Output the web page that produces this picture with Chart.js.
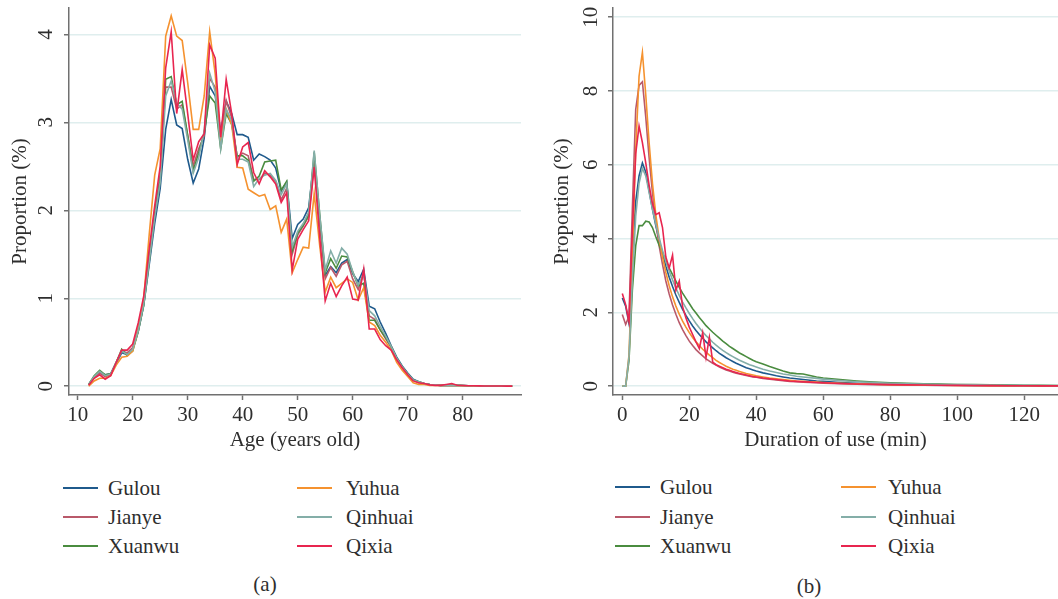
<!DOCTYPE html>
<html><head><meta charset="utf-8">
<script src="https://cdn.jsdelivr.net/npm/chart.js@4.4.1/dist/chart.umd.min.js"></script>
<style>
html,body{margin:0;padding:0;background:#fff;width:1058px;height:599px;overflow:hidden;position:relative;font-family:"Liberation Serif","DejaVu Serif",serif;color:#2e2e2e}
canvas{position:absolute;top:0}
#ca{left:0}
#cb{left:540px}
.li{position:absolute;height:24px;font-size:21px;line-height:24px;white-space:nowrap}
.li span.s{position:absolute;left:0;top:11px;width:35px;height:2px}
.li span.t{position:absolute;top:0}
.cap{position:absolute;font-size:21px;line-height:24px;transform:translateX(-50%)}
</style></head><body>
<canvas id="ca" width="530" height="460"></canvas>
<canvas id="cb" width="518" height="460"></canvas>
<script>
// ---------- data ----------
const SERIES = ['Gulou','Jianye','Xuanwu','Yuhua','Qinhuai','Qixia'];
const COLORS = ['#1f5a8c','#b9596a','#4a8c3f','#f5922f','#84aea8','#e8254f'];

// (a) age distribution
const AGES = [12,13,14,15,16,17,18,19,20,21,22,23,24,25,26,27,28,29,30,31,32,33,34,35,36,37,38,39,40,41,42,43,44,45,46,47,48,49,50,51,52,53,54,55,56,57,58,59,60,61,62,63,64,65,66,67,68,69,70,71,72,73,74,75,76,77,78,79,80,81,82,83,84,85,86,87,88,89];
const A_GULOU = [0.02,0.10,0.16,0.13,0.14,0.26,0.38,0.36,0.42,0.62, 0.92,1.38,1.85,2.25,2.92,3.26,2.97,2.93,2.58,2.31, 2.47,2.82,3.41,3.30,2.90,3.24,3.10,2.86,2.86,2.83, 2.57,2.64,2.61,2.57,2.48,2.22,2.32,1.68,1.84,1.90, 2.03,2.58,1.90,1.26,1.36,1.29,1.40,1.44,1.28,1.19, 1.33,0.91,0.88,0.73,0.60,0.46,0.33,0.23,0.15,0.08, 0.05,0.03,0.02,0.015,0.01,0.01,0.01,0.01,0.008,0.006, 0.005,0.004,0.003,0.003,0.002,0.002,0.001,0.001];
const A_JIANYE = [0.02,0.10,0.15,0.11,0.13,0.27,0.40,0.38,0.44,0.66, 0.97,1.48,1.98,2.40,3.40,3.40,3.15,3.20,2.85,2.50, 2.70,2.85,3.50,3.40,2.80,3.25,3.05,2.60,2.65,2.62, 2.35,2.35,2.42,2.40,2.33,2.12,2.25,1.50,1.72,1.82, 1.93,2.55,1.85,1.22,1.35,1.25,1.38,1.42,1.22,1.10, 1.28,0.80,0.76,0.64,0.54,0.44,0.31,0.21,0.13,0.07, 0.04,0.03,0.02,0.015,0.01,0.01,0.01,0.01,0.008,0.006, 0.005,0.004,0.003,0.003,0.002,0.002,0.001,0.001];
const A_XUANWU = [0.02,0.12,0.18,0.13,0.14,0.27,0.42,0.35,0.40,0.62, 0.92,1.42,1.95,2.35,3.49,3.52,3.20,3.24,2.85,2.45, 2.65,2.88,3.30,3.22,2.70,3.10,2.98,2.62,2.62,2.57, 2.33,2.39,2.55,2.56,2.57,2.23,2.33,1.54,1.74,1.83, 1.95,2.66,1.95,1.29,1.45,1.34,1.48,1.47,1.30,1.14, 1.17,0.75,0.75,0.64,0.55,0.45,0.32,0.22,0.14,0.07, 0.05,0.03,0.02,0.015,0.01,0.01,0.01,0.01,0.008,0.006, 0.005,0.004,0.003,0.003,0.002,0.002,0.001,0.001];
const A_YUHUA = [0.00,0.06,0.09,0.09,0.12,0.24,0.33,0.34,0.40,0.65, 1.00,1.72,2.40,2.70,3.98,4.21,3.98,3.93,3.45,2.92, 2.92,3.30,4.03,3.55,2.78,3.15,2.97,2.49,2.48,2.24, 2.20,2.16,2.18,2.01,2.05,1.75,1.90,1.29,1.44,1.58, 1.57,2.19,1.60,1.07,1.24,1.12,1.17,1.22,1.18,0.98, 1.12,0.73,0.69,0.58,0.50,0.41,0.27,0.18,0.11,0.04, 0.02,0.02,0.01,0.01,0.01,0.01,0.01,0.008,0.006,0.005, 0.004,0.003,0.003,0.002,0.002,0.001,0.001,0.001];
const A_QINHUAI = [0.02,0.11,0.17,0.12,0.14,0.27,0.40,0.36,0.42,0.63, 0.93,1.42,1.92,2.32,3.30,3.47,3.22,3.15,2.80,2.42, 2.60,2.90,3.56,3.35,2.70,3.15,3.02,2.58,2.58,2.55, 2.27,2.36,2.40,2.42,2.34,2.18,2.30,1.58,1.76,1.85, 1.98,2.68,1.95,1.32,1.54,1.40,1.57,1.50,1.30,1.15, 1.28,0.86,0.80,0.68,0.57,0.45,0.32,0.22,0.14,0.07, 0.05,0.03,0.02,0.015,0.01,0.01,0.01,0.01,0.008,0.006, 0.005,0.004,0.003,0.003,0.002,0.002,0.001,0.001];
const A_QIXIA = [0.01,0.09,0.13,0.08,0.12,0.27,0.41,0.41,0.48,0.72, 1.02,1.56,2.05,2.50,3.62,4.03,3.10,3.60,3.10,2.57, 2.78,2.87,3.88,3.73,2.83,3.49,3.10,2.52,2.72,2.77, 2.43,2.30,2.45,2.38,2.30,2.09,2.20,1.32,1.67,1.78, 1.88,2.49,1.70,0.97,1.17,1.02,1.14,1.24,0.99,0.98, 1.33,0.65,0.65,0.53,0.46,0.41,0.30,0.21,0.13,0.06, 0.04,0.03,0.015,0.01,0.01,0.02,0.03,0.01,0.008,0.006, 0.005,0.004,0.003,0.003,0.002,0.002,0.001,0.001];
const A_TICKS_X = [10,20,30,40,50,60,70,80];
const A_TICKS_Y = [0,1,2,3,4];

// (b) duration of use
const MINUTES = [0,1,2,3,4,5,6,7,8,9,10,11,12,13,14,15,16,17,18,19,20,21,22,23,24,25,26,27,28,29,30,31,32,33,34,35,36,37,38,39,40,42,44,46,48,50,52,54,56,58,60,65,70,75,80,85,90,95,100,105,110,115,120,125,130,135];
const B_GULOU = [2.39,2.17,1.70,3.60,5.00,5.70,6.05,5.80,5.30,4.80, 4.35,3.95,3.60,3.25,2.95,2.70,2.47,2.27,2.08,1.92, 1.77,1.63,1.51,1.40,1.30,1.20,1.12,1.04,0.96,0.89, 0.83,0.77,0.72,0.67,0.62,0.58,0.54,0.50,0.47,0.44, 0.41, 0.36,0.32,0.28,0.25,0.22,0.20,0.18,0.16,0.14,0.13, 0.10,0.08,0.06,0.05,0.04,0.035,0.03,0.025,0.02,0.018,0.015,0.012,0.01,0.008,0.007];
const B_JIANYE = [1.94,1.67,1.90,4.80,7.50,8.15,8.25,7.30,6.20,5.25, 4.45,3.80,3.30,2.85,2.50,2.20,1.95,1.72,1.53,1.37, 1.22,1.10,0.99,0.90,0.82,0.74,0.68,0.62,0.57,0.52, 0.48,0.44,0.41,0.38,0.35,0.33,0.31,0.29,0.27,0.25, 0.24, 0.21,0.19,0.17,0.15,0.13,0.12,0.11,0.10,0.09,0.08, 0.065,0.05,0.04,0.035,0.03,0.025,0.02,0.018,0.015,0.012,0.01,0.008,0.007,0.006,0.005];
const B_XUANWU = [0,0,0.70,2.60,3.80,4.35,4.35,4.47,4.45,4.30, 4.05,3.82,3.60,3.40,3.20,3.02,2.85,2.68,2.52,2.38, 2.24,2.10,1.98,1.86,1.75,1.64,1.55,1.46,1.38,1.30, 1.22,1.15,1.08,1.02,0.96,0.90,0.85,0.80,0.75,0.70, 0.66, 0.60,0.53,0.47,0.41,0.36,0.34,0.33,0.29,0.25,0.22, 0.18,0.14,0.11,0.09,0.075,0.065,0.055,0.045,0.04,0.035,0.03,0.025,0.02,0.018,0.015];
const B_YUHUA = [0,0,0.85,3.50,6.40,8.40,9.05,7.90,6.60,5.50, 4.65,4.00,3.50,3.08,2.72,2.42,2.17,1.95,1.76,1.60, 1.45,1.32,1.20,1.10,1.00,0.92,0.84,0.77,0.70,0.64, 0.59,0.54,0.50,0.46,0.43,0.40,0.37,0.34,0.32,0.30, 0.28, 0.25,0.22,0.20,0.18,0.16,0.14,0.13,0.12,0.11,0.10, 0.08,0.065,0.05,0.04,0.035,0.03,0.025,0.02,0.018,0.015,0.012,0.01,0.008,0.007,0.006];
const B_QINHUAI = [0,0,0.80,2.90,4.60,5.50,5.90,5.70,5.25,4.80, 4.40,4.02,3.68,3.38,3.12,2.88,2.66,2.46,2.28,2.12, 1.97,1.83,1.70,1.58,1.47,1.37,1.28,1.19,1.11,1.04, 0.97,0.91,0.85,0.80,0.75,0.70,0.66,0.62,0.58,0.55, 0.52, 0.46,0.41,0.37,0.33,0.30,0.27,0.25,0.23,0.21,0.19, 0.15,0.12,0.10,0.08,0.065,0.055,0.045,0.04,0.035,0.03,0.025,0.02,0.018,0.015,0.013];
const B_QIXIA = [2.51,2.21,1.75,4.20,6.30,7.05,6.60,6.05,5.45,4.95, 4.65,4.70,4.30,3.50,3.20,3.55,2.60,2.85,2.15,1.85, 1.60,1.40,1.20,1.02,1.45,0.78,1.32,0.65,0.58,0.54, 0.50,0.46,0.43,0.40,0.37,0.34,0.32,0.30,0.28,0.26, 0.25, 0.22,0.20,0.18,0.16,0.14,0.13,0.12,0.11,0.10,0.09, 0.07,0.06,0.05,0.04,0.035,0.03,0.025,0.02,0.018,0.015,0.012,0.01,0.008,0.007,0.006];
const B_TICKS_X = [0,20,40,60,80,100,120];
const B_TICKS_Y = [0,2,4,6,8,10];

// ---------- drawing ----------
const FONT = 'Liberation Serif';
const FSIZE = 21;
const TXT = '#2e2e2e';
const AXIS = '#707070';

const rotYTicks = {
  id: 'rotYTicks',
  afterDraw(chart, args, opts) {
    const s = chart.scales.y, ctx = chart.ctx;
    ctx.save();
    ctx.font = FSIZE + 'px "' + FONT + '"';
    ctx.fillStyle = TXT;
    ctx.textAlign = 'center';
    ctx.textBaseline = 'middle';
    s.ticks.forEach(t => {
      const y = s.getPixelForValue(t.value);
      ctx.save();
      ctx.translate(opts.x, y);
      ctx.rotate(-Math.PI / 2);
      ctx.fillText(t.label, 0, 0);
      ctx.restore();
    });
    ctx.restore();
  }
};

function build(id, xs, series, cfg) {
  const datasets = series.map((vals, i) => ({
    label: SERIES[i],
    data: xs.map((x, j) => ({x: x, y: vals[j]})),
    borderColor: COLORS[i],
    backgroundColor: COLORS[i],
    borderWidth: 1.6,
    pointRadius: 0,
    fill: false,
    tension: 0,
    order: series.length - i
  }));
  return new Chart(document.getElementById(id), {
    type: 'line',
    data: {datasets},
    plugins: [rotYTicks],
    options: {
      responsive: false, animation: false, events: [],
      layout: {padding: {top: 8, right: cfg.padRight, left: 0, bottom: 0}},
      plugins: {legend: {display: false}, tooltip: {enabled: false}, rotYTicks: {x: cfg.yLabelX}},
      scales: {
        x: {
          type: 'linear', min: cfg.xMin, max: cfg.xMax,
          afterBuildTicks: s => { s.ticks = cfg.xTicks.map(v => ({value: v})); },
          afterFit: s => { s.height = 65; },
          grid: {display: true, drawOnChartArea: false, drawTicks: true, tickLength: 5, tickColor: AXIS, tickWidth: 1.5},
          border: {display: true, color: AXIS, width: 1.5},
          ticks: {font: {family: FONT, size: FSIZE}, color: TXT, padding: 3, maxRotation: 0, autoSkip: false},
          title: {display: true, text: cfg.xTitle, font: {family: FONT, size: FSIZE}, color: TXT, padding: {top: 0, bottom: 7}}
        },
        y: {
          type: 'linear', min: cfg.yMin, max: cfg.yMax,
          afterBuildTicks: s => { s.ticks = cfg.yTicks.map(v => ({value: v})); },
          afterFit: s => { s.width = cfg.yWidth; },
          grid: {color: '#dfeeee', lineWidth: 1.5, drawTicks: true, tickLength: 5, tickColor: AXIS, tickWidth: 1.5},
          border: {display: true, color: AXIS, width: 1.5},
          ticks: {display: false},
          title: {display: true, text: 'Proportion (%)', font: {family: FONT, size: FSIZE}, color: TXT, padding: {top: cfg.yTitlePad, bottom: 0}}
        }
      }
    }
  });
}

build('ca', AGES, [A_GULOU, A_JIANYE, A_XUANWU, A_YUHUA, A_QINHUAI, A_QIXIA], {
  xMin: 8.42, xMax: 90.6, yMin: -0.1, yMax: 4.3, xTicks: A_TICKS_X, yTicks: A_TICKS_Y,
  yWidth: 69, padRight: 9, yLabelX: 46.5, yTitlePad: 8, xTitle: 'Age (years old)'
});
build('cb', MINUTES, [B_GULOU, B_JIANYE, B_XUANWU, B_YUHUA, B_QINHUAI, B_QIXIA], {
  xMin: -2.78, xMax: 130.1, yMin: -0.24, yMax: 10.25, xTicks: B_TICKS_X, yTicks: B_TICKS_Y,
  yWidth: 73, padRight: 0, yLabelX: 51, yTitlePad: 10, xTitle: 'Duration of use (min)'
});

// ---------- legends & captions ----------
const LEG_ORDER = [[0,1,2],[3,4,5]];
function legend(cols, rows) {
  LEG_ORDER.forEach((col, c) => col.forEach((si, r) => {
    const d = document.createElement('div');
    d.className = 'li';
    d.style.left = cols[c][0] + 'px';
    d.style.top = (rows[r] - 12) + 'px';
    d.innerHTML = '<span class="s" style="background:' + COLORS[si] + '"></span><span class="t" style="left:' + (cols[c][1] - cols[c][0]) + 'px">' + SERIES[si] + '</span>';
    document.body.appendChild(d);
  }));
}
legend([[63,108],[297,346]], [488,517,546]);
legend([[615,660],[841,888]], [487,517,546]);
function caption(text, x, y) {
  const d = document.createElement('div');
  d.className = 'cap';
  d.style.left = x + 'px';
  d.style.top = (y - 12) + 'px';
  d.textContent = text;
  document.body.appendChild(d);
}
caption('(a)', 265, 584);
caption('(b)', 809, 586);
</script>
</body></html>
